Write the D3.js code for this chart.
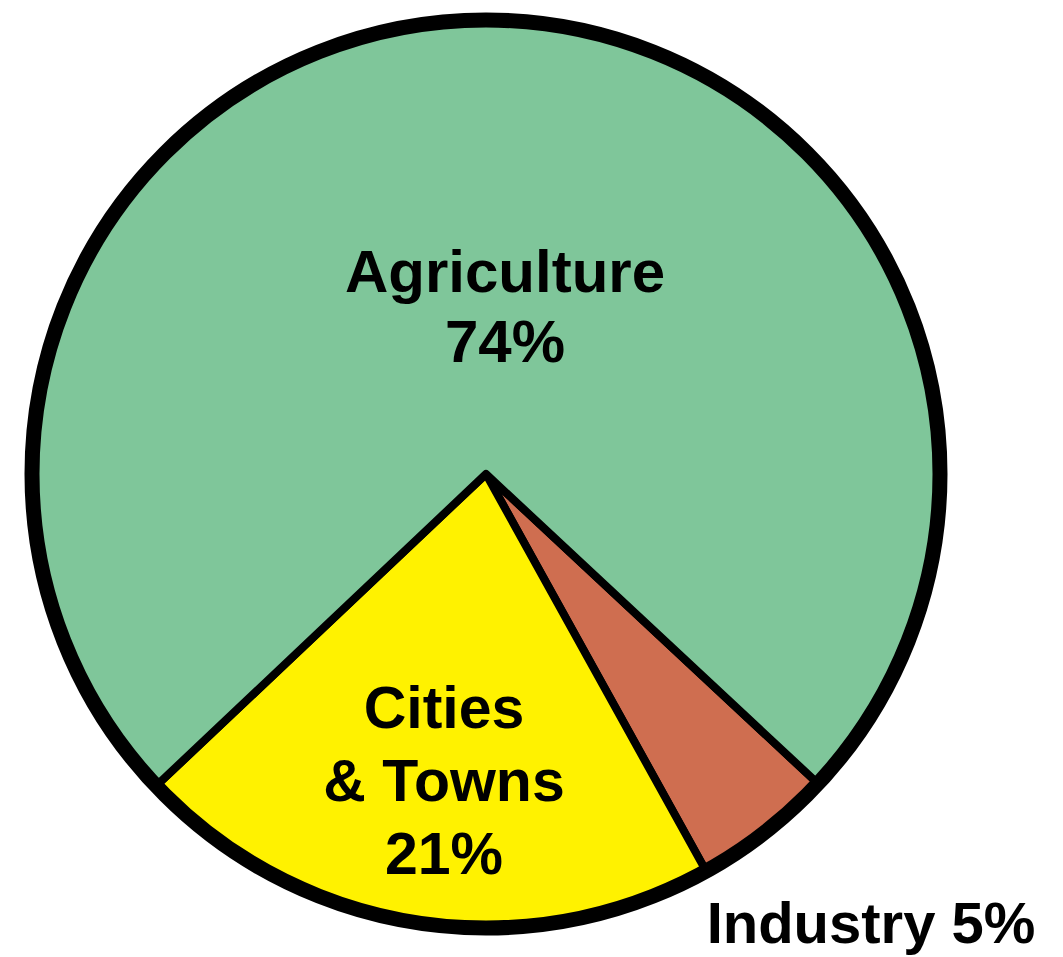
<!DOCTYPE html>
<html>
<head>
<meta charset="utf-8">
<script src="https://cdn.jsdelivr.net/npm/d3@7"></script>
<style>
  body { margin: 0; background: #fff; }
  svg { display: block; }
  text { font-family: "Liberation Sans", Arial, sans-serif; font-weight: bold; fill: #000; }
</style>
</head>
<body>
<div id="chart"></div>
<script>
// land use share, as printed on the chart
var categories = ["Industry", "Cities & Towns", "Agriculture"];
var shares = [5, 21, 74];
var labelLines = [["Industry 5%"], ["Cities", "& Towns", "21%"], ["Agriculture", "74%"]];

var width = 1063, height = 957;
var cx = 486, cy = 474, radius = 454;

var color = d3.scaleOrdinal()
    .domain(categories)
    .range(["#cf6e50", "#fff200", "#7fc69a"]);

var svg = d3.select("#chart")
    .append("svg")
    .attr("width", width)
    .attr("height", height);

var g = svg.append("g")
    .attr("transform", "translate(" + cx + "," + cy + ")");

// industry starts a bit past the 4 o'clock position, going clockwise
var start = 133 * Math.PI / 180;
var pie = d3.pie()
    .sort(null)
    .value(function(d) { return d; })
    .startAngle(start)
    .endAngle(start + 2 * Math.PI);

var arc = d3.arc()
    .innerRadius(0)
    .outerRadius(radius);

var arcs = pie(shares);

g.selectAll("path.slice")
    .data(arcs)
    .enter()
    .append("path")
    .attr("class", "slice")
    .attr("d", arc)
    .attr("fill", function(d, i) { return color(categories[i]); })
    .attr("stroke", "#000")
    .attr("stroke-width", 8)
    .attr("stroke-linejoin", "round");

// thick outer rim
g.append("circle")
    .attr("r", radius)
    .attr("fill", "none")
    .attr("stroke", "#000")
    .attr("stroke-width", 15);

// label anchors (page coords), first baseline + line gap
var labelPos = [
    {x: 871, y: 943, gap: 0, size: 58},
    {x: 444, y: 728, gap: 73, size: 59},
    {x: 505, y: 292, gap: 70, size: 60}
];

labelLines.forEach(function(lines, i) {
    var p = labelPos[i];
    var t = svg.append("text")
        .attr("text-anchor", "middle")
        .style("font-size", p.size + "px");
    lines.forEach(function(line, j) {
        t.append("tspan")
            .attr("x", p.x)
            .attr("y", p.y + j * p.gap)
            .text(line);
    });
});
</script>
</body>
</html>
